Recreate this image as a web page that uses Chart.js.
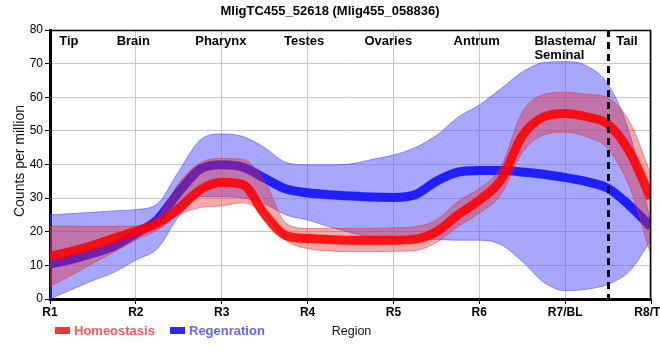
<!DOCTYPE html>
<html><head><meta charset="utf-8">
<script src="https://cdn.jsdelivr.net/npm/chart.js@4.4.1/dist/chart.umd.min.js"></script>
<style>
html,body{margin:0;padding:0;background:#fff;overflow:hidden}
#wrap{width:660px;height:360px;overflow:hidden;position:relative}
canvas{display:block}
</style>
</head><body>
<div id="wrap"><canvas id="c" width="680" height="360"></canvas></div>
<script>
const chartTitle = 'MligTC455_52618 (Mlig455_058836)';
const yAxisTitle = 'Counts per million';
const xAxisTitle = 'Region';
const xTickLabels = ['R1','R2','R3','R4','R5','R6','R7/BL','R8/TL'];
const regionNames = ['Tip','Brain','Pharynx','Testes','Ovaries','Antrum','Blastema/\nSeminal','Tail'];
const regionAt = [1.22,1.97,2.99,3.96,4.94,5.97,7.0,7.72];
const dividerAt = 7.5;
const seriesNames = ['Homeostasis','Regenration'];

const xs = [1,1.25,1.5,1.75,2,2.25,2.5,2.75,3,3.25,3.5,3.75,4,4.25,4.5,4.75,5,5.25,5.5,5.75,6,6.25,6.5,6.75,7,7.25,7.5,7.75,8];

const homeoMean  = [12.7,14.2,16.0,18.1,20.2,22.5,26.9,32.5,34.7,34.0,25.2,18.8,18.0,17.7,17.5,17.5,17.5,17.8,20.0,25.0,29.4,35.3,48.5,54.2,55.2,54.2,52.0,43.8,29.9];
const homeoUpper = [21.7,21.7,21.6,21.6,21.7,24.3,34.5,40.5,41.8,41.5,35.0,22.5,21.0,21.0,21.0,21.0,21.2,21.5,23.5,29.0,32.9,39.2,55.5,60.8,61.5,60.9,59.7,52.7,37.0];
const homeoLower = [3.7,7.1,10.6,14.0,17.5,20.5,25.0,27.2,27.7,28.6,25.0,17.5,15.0,14.3,14.1,14.1,14.2,14.4,16.8,21.5,25.5,31.0,43.5,48.8,49.6,48.3,44.6,33.3,13.0];

const regenMean  = [10.4,11.8,13.6,15.8,19.5,23.6,31.8,38.6,39.9,39.2,35.9,32.7,31.6,31.0,30.6,30.3,30.2,31.0,35.0,37.7,38.2,38.2,37.8,37.1,36.1,34.9,32.9,27.8,21.5];
const regenUpper = [25.0,25.4,25.8,26.2,26.6,28.3,38.0,47.3,49.1,48.3,45.0,40.6,39.9,39.9,40.2,41.5,42.8,45.0,48.6,54.0,57.7,62.5,67.5,70.3,70.6,69.3,63.8,49.3,22.5];
const regenLower = [0.0,2.8,5.5,8.0,11.6,15.0,24.6,30.5,30.4,30.1,28.3,25.0,23.5,21.5,19.8,18.3,18.0,17.8,17.7,17.5,17.5,16.2,11.2,5.0,2.5,2.9,4.4,8.3,17.5];

const FONT = "'Liberation Sans', Arial, Helvetica, sans-serif";
Chart.defaults.font.family = FONT;

const pts = arr => xs.map((x, i) => ({x: x, y: arr[i]}));
const common = {pointRadius: 0, pointHoverRadius: 0, cubicInterpolationMode: 'monotone'};

const RED_LINE = 'rgba(255,0,0,0.88)';
const RED_BAND = 'rgba(230,40,40,0.40)';
const RED_EDGE = 'rgba(220,40,40,0.45)';
const BLUE_LINE = 'rgba(20,20,255,0.92)';
const BLUE_BAND = 'rgba(80,80,255,0.50)';
const BLUE_EDGE = 'rgba(70,70,255,0.55)';

const decor = {
  id: 'decor',
  afterDatasetsDraw(chart) {
    const {ctx, chartArea: a, scales: {x}} = chart;
    ctx.save();
    ctx.strokeStyle = '#000';
    ctx.lineWidth = 1.5;
    ctx.beginPath();
    ctx.moveTo(a.left, a.top + 0.5);
    ctx.lineTo(a.right - 0.5, a.top + 0.5);
    ctx.lineTo(a.right - 0.5, a.bottom);
    ctx.stroke();
    const dx = Math.round(x.getPixelForValue(dividerAt)) + 0.5;
    ctx.setLineDash([7, 5]);
    ctx.lineWidth = 3;
    ctx.beginPath();
    ctx.moveTo(dx, a.top);
    ctx.lineTo(dx, a.bottom + 6);
    ctx.stroke();
    ctx.restore();
  },
  afterDraw(chart) {
    const {ctx, chartArea: a, scales: {x}} = chart;
    ctx.save();
    ctx.fillStyle = '#000';
    ctx.textBaseline = 'alphabetic';
    // title
    ctx.font = 'bold 13px ' + FONT;
    ctx.textAlign = 'center';
    ctx.fillText(chartTitle, 330, 15);
    // region labels
    ctx.font = 'bold 13px ' + FONT;
    ctx.textAlign = 'left';
    regionNames.forEach((name, i) => {
      const lines = name.split('\n');
      const w = Math.max(...lines.map(l => ctx.measureText(l).width));
      const cx = x.getPixelForValue(regionAt[i]);
      lines.forEach((l, j) => ctx.fillText(l, cx - w / 2, 45 + j * 13.5));
    });
    // y axis title
    ctx.save();
    ctx.translate(20, 161);
    ctx.rotate(-Math.PI / 2);
    ctx.textAlign = 'center';
    ctx.textBaseline = 'middle';
    ctx.font = '14px ' + FONT;
    ctx.fillStyle = '#111';
    ctx.fillText(yAxisTitle, 0, 0);
    ctx.restore();
    // x axis title
    ctx.font = '12.5px ' + FONT;
    ctx.textAlign = 'center';
    ctx.fillStyle = '#111';
    ctx.fillText(xAxisTitle, (a.left + a.right) / 2 + 1, 335);
    // legend
    ctx.textAlign = 'left';
    ctx.font = 'bold 13px ' + FONT;
    ctx.fillStyle = 'rgb(255,50,50)';
    ctx.fillRect(55, 327, 15, 7);
    ctx.fillStyle = 'rgb(255,85,90)';
    ctx.fillText(seriesNames[0], 74, 335);
    ctx.fillStyle = 'rgb(40,40,255)';
    ctx.fillRect(170, 327, 15, 7);
    ctx.fillStyle = 'rgb(100,100,255)';
    ctx.fillText(seriesNames[1], 189, 335);
    ctx.restore();
  }
};

new Chart(document.getElementById('c'), {
  type: 'line',
  data: {
    datasets: [
      Object.assign({label: seriesNames[0], data: pts(homeoMean), borderColor: RED_LINE, borderWidth: 9, fill: false}, common),
      Object.assign({label: 'hu', data: pts(homeoUpper), borderColor: RED_EDGE, borderWidth: 1, backgroundColor: RED_BAND, fill: '+1'}, common),
      Object.assign({label: 'hl', data: pts(homeoLower), borderColor: RED_EDGE, borderWidth: 1, fill: false}, common),
      Object.assign({label: seriesNames[1], data: pts(regenMean), borderColor: BLUE_LINE, borderWidth: 9, fill: false}, common),
      Object.assign({label: 'ru', data: pts(regenUpper), borderColor: BLUE_EDGE, borderWidth: 1, backgroundColor: BLUE_BAND, fill: '+1'}, common),
      Object.assign({label: 'rl', data: pts(regenLower), borderColor: BLUE_EDGE, borderWidth: 1, fill: false}, common)
    ]
  },
  options: {
    responsive: false,
    animation: false,
    devicePixelRatio: 1,
    layout: {padding: {top: 30, right: 29, bottom: 0, left: 0}},
    plugins: {legend: {display: false}, tooltip: {enabled: false}, title: {display: false}},
    scales: {
      x: {
        type: 'linear', min: 1, max: 8,
        ticks: {stepSize: 1, autoSkip: false, maxRotation: 0, color: '#000', padding: 1,
          font: {size: 12, weight: 'bold'},
          callback: v => xTickLabels[Math.round(v) - 1] || ''},
        grid: {color: '#c8c8c8', tickColor: '#000', tickLength: 5, lineWidth: 1},
        border: {color: '#000', width: 3},
        afterFit: s => { s.height = 61; }
      },
      y: {
        min: 0, max: 80,
        ticks: {stepSize: 10, color: '#000', padding: 2, font: {size: 12}},
        grid: {color: '#c8c8c8', tickColor: '#000', tickLength: 5, lineWidth: 1},
        border: {color: '#000', width: 3},
        afterFit: s => { s.width = 50; }
      }
    }
  },
  plugins: [decor]
});
</script>
</body></html>
